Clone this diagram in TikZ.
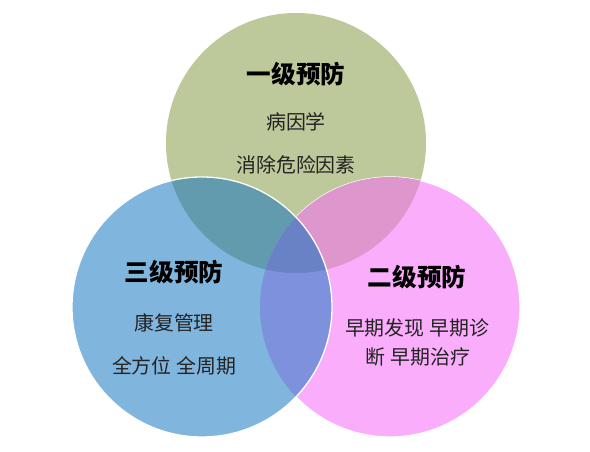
\documentclass[tikz,border=0pt]{standalone}
\usepackage{fontspec}
\usepackage{tikz}
\usetikzlibrary{positioning}
\newfontfamily\cjk{Noto Sans CJK SC}[BoldFont={Noto Sans CJK SC Black}]
\definecolor{levelone}{RGB}{189,201,154}
\definecolor{leveltwo}{RGB}{250,173,250}
\definecolor{levelthree}{RGB}{128,181,222}
\definecolor{onethree}{RGB}{97,155,173}
\definecolor{onetwo}{RGB}{221,151,204}
\definecolor{twothree}{RGB}{125,145,220}
\definecolor{allthree}{RGB}{105,129,197}
\definecolor{textgray}{RGB}{35,35,35}

\begin{document}
\begin{tikzpicture}[
    x=0.03cm, y=0.03cm,
    ring/.style={circle, minimum size=7.8cm, inner sep=0pt},
    title/.style={font=\cjk\bfseries\fontsize{21}{25}\selectfont, text=black},
    item/.style={font=\cjk\fontsize{17}{20}\selectfont, text=textgray}
]
    \useasboundingbox[fill=white] (0,0) rectangle (590,452);

    \node[ring, fill=levelone] (one) at (296,309) {};
    \node[ring, fill=leveltwo, draw=white, line width=1.1pt] (two) at (390,145) {};
    \node[ring, fill=levelthree] (three) at (202,145) {};

    \begin{scope}
        \clip (one.center) circle (130);
        \fill[onethree] (three.center) circle (130);
        \fill[onetwo] (two.center) circle (130);
    \end{scope}
    \begin{scope}
        \clip (two.center) circle (130);
        \fill[twothree] (three.center) circle (130);
        \clip (three.center) circle (130);
        \fill[allthree] (one.center) circle (130);
    \end{scope}
    \draw[white, line width=1.1pt] (three.center) circle (130);

    \node[title] (t1) at (296,378) {一级预防};
    \node[item] (a1) at (296,330) {病因学};
    \node[item] (a2) at (296,287) {消除危险因素};

    \node[title] (t3) at (174,180) {三级预防};
    \node[item] (c1) at (174,129) {康复管理};
    \node[item] (c2) at (174,86) {全方位 全周期};

    \node[title] (t2) at (417,175) {二级预防};
    \node[item] (b1) at (417,124) {早期发现 早期诊};
    \node[item] (b2) at (418,95) {断 早期治疗};

\end{tikzpicture}
\end{document}
